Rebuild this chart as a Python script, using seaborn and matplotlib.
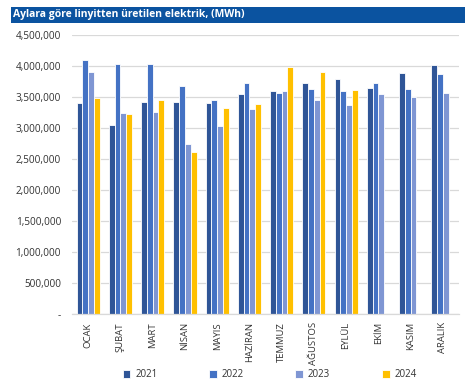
import matplotlib
matplotlib.use("Agg")
import matplotlib.pyplot as plt
import matplotlib.ticker as mticker
from matplotlib.patches import Rectangle
import numpy as np
import pandas as pd
import seaborn as sns

months = ["OCAK", "ŞUBAT", "MART", "NİSAN", "MAYIS", "HAZİRAN",
          "TEMMUZ", "AĞUSTOS", "EYLÜL", "EKİM", "KASIM", "ARALIK"]
years = ["2021", "2022", "2023", "2024"]

y2021 = [3400000, 3050000, 3420000, 3420000, 3410000, 3550000,
         3590000, 3730000, 3790000, 3640000, 3890000, 4020000]
y2022 = [4100000, 4040000, 4040000, 3680000, 3450000, 3730000,
         3560000, 3630000, 3590000, 3730000, 3630000, 3870000]
y2023 = [3910000, 3240000, 3260000, 2740000, 3040000, 3310000,
         3600000, 3460000, 3370000, 3550000, 3500000, 3560000]
y2024 = [3490000, 3230000, 3460000, 2610000, 3320000, 3390000,
         3980000, 3900000, 3610000]

yticks = [0, 500000, 1000000, 1500000, 2000000, 2500000,
          3000000, 3500000, 4000000, 4500000]

rows = []
for yr, vals in zip(years, [y2021, y2022, y2023, y2024]):
    for m, v in zip(months, vals):
        rows.append({"Ay": m, "Yıl": yr, "MWh": v})
df = pd.DataFrame(rows)

palette = {"2021": "#2F5597", "2022": "#4472C4", "2023": "#7F96D3", "2024": "#FFC000"}

sns.set_theme(style="white")
plt.rcParams["font.family"] = ["Open Sans", "DejaVu Sans"]

fig = plt.figure(figsize=(4.65, 3.81), dpi=100)
ax = fig.add_axes([0.155, 0.176, 0.832, 0.732])

sns.barplot(data=df, x="Ay", y="MWh", hue="Yıl", order=months, hue_order=years,
            palette=palette, width=0.72, edgecolor="white", linewidth=0.6,
            saturation=1, ax=ax)

ax.set_ylim(0, 4500000)
ax.set_xlim(-0.5, len(months) - 0.5)
ax.set_yticks(yticks)
ax.yaxis.set_major_formatter(mticker.FuncFormatter(
    lambda v, p: "-" if v == 0 else f"{int(v):,}"))
ax.grid(axis="y", color="#D9D9D9", linewidth=0.9)
ax.set_axisbelow(True)
for s in ["top", "right", "left"]:
    ax.spines[s].set_visible(False)
ax.spines["bottom"].set_color("#D9D9D9")
ax.spines["bottom"].set_linewidth(0.9)
ax.tick_params(axis="y", labelsize=7.2, colors="#333333", length=0, pad=8)
ax.tick_params(axis="x", labelsize=6.8, colors="#333333", length=0, pad=6,
               labelrotation=90)
ax.set_xlabel("")
ax.set_ylabel("")

handles, labels = ax.get_legend_handles_labels()
ax.legend_.remove()
fig.legend(handles, labels, loc="center", bbox_to_anchor=(0.58, 0.016),
           ncol=4, frameon=False, fontsize=7, handlelength=0.8,
           handleheight=0.8, columnspacing=5.3, handletextpad=0.5,
           labelcolor="#333333")

fig.patches.append(Rectangle((11 / 465, 1 - 22.5 / 381), 1 - 11 / 465, 15.5 / 381,
                             transform=fig.transFigure, facecolor="#0B53A0",
                             edgecolor="none", zorder=0))
fig.text(13 / 465, 1 - 15 / 381, "Aylara göre linyitten üretilen elektrik, (MWh)",
         color="white", fontsize=7.5, fontweight="bold", va="center", ha="left")

fig.savefig("out.png", dpi=100)
